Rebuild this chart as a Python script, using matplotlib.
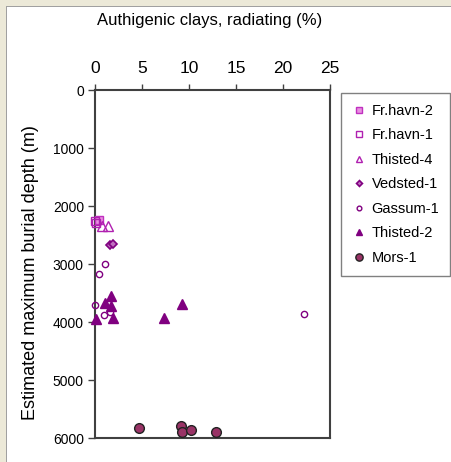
import matplotlib
matplotlib.use("Agg")
import matplotlib.pyplot as plt
from matplotlib.patches import Rectangle

plt.rcParams['font.family'] = ['Liberation Sans', 'DejaVu Sans']

# Data (clay %, depth m)
frhavn2_x = [0.4]
frhavn2_y = [2240]
frhavn1_x = [0.0, 0.1]
frhavn1_y = [2250, 2300]
thisted4_x = [0.7, 1.35]
thisted4_y = [2350, 2350]
vedsted1_x = [1.6, 1.9]
vedsted1_y = [2670, 2660]
gassum1_x = [1.05, 0.4, 0.0, 1.0, 1.6, 22.2]
gassum1_y = [3000, 3170, 3700, 3880, 3830, 3870]
thisted2_x = [1.7, 1.05, 1.7, 0.07, 1.95, 7.3, 9.3]
thisted2_y = [3550, 3670, 3720, 3945, 3930, 3930, 3690]
mors1_x = [4.7, 9.2, 9.3, 10.2, 12.9]
mors1_y = [5830, 5800, 5890, 5870, 5890]

xticks = [0, 5, 10, 15, 20, 25]
yticks = [0, 1000, 2000, 3000, 4000, 5000, 6000]

W, H = 452, 462
fig = plt.figure(figsize=(W / 100, H / 100), dpi=100)
fig.patch.set_facecolor('white')

# window border (beige) top and left
fig.patches.append(Rectangle((0, 1 - 6 / H), 1, 6 / H, transform=fig.transFigure,
                             facecolor='#ece9d8', edgecolor='none', zorder=0))
fig.patches.append(Rectangle((0, 0), 6 / W, 1, transform=fig.transFigure,
                             facecolor='#ece9d8', edgecolor='none', zorder=0))
fig.patches.append(Rectangle((6 / W, 0), 1.2 / W, 1 - 6 / H, transform=fig.transFigure,
                             facecolor='#a0a0a0', edgecolor='none', zorder=0))
fig.patches.append(Rectangle((6 / W, 1 - 7.2 / H), 1 - 6 / W, 1.2 / H, transform=fig.transFigure,
                             facecolor='#a0a0a0', edgecolor='none', zorder=0))

ax = fig.add_axes([95 / W, 1 - 438 / H, (330 - 95) / W, (438 - 90) / H])

purple = '#800080'
magenta = '#b020b0'

ax.plot(frhavn2_x, frhavn2_y, ls='none', marker='s', ms=5.5, mfc='#e890e0',
        mec='#c030c0', mew=1.0, label='Fr.havn-2', clip_on=False, zorder=5)
ax.plot(frhavn1_x, frhavn1_y, ls='none', marker='s', ms=5.5, mfc='none',
        mec=magenta, mew=1.0, label='Fr.havn-1', clip_on=False, zorder=5)
ax.plot(thisted4_x, thisted4_y, ls='none', marker='^', ms=6.5, mfc='none',
        mec=magenta, mew=1.0, label='Thisted-4', clip_on=False, zorder=5)
ax.plot(vedsted1_x, vedsted1_y, ls='none', marker='D', ms=4, mfc='#c070c0',
        mec=purple, mew=1.2, label='Vedsted-1', clip_on=False, zorder=5)
ax.plot(gassum1_x, gassum1_y, ls='none', marker='o', ms=4.5, mfc='none',
        mec=purple, mew=1.0, label='Gassum-1', clip_on=False, zorder=5)
ax.plot(thisted2_x, thisted2_y, ls='none', marker='^', ms=6.5, mfc=purple,
        mec=purple, mew=1.0, label='Thisted-2', clip_on=False, zorder=5)
ax.plot(mors1_x, mors1_y, ls='none', marker='o', ms=7, mfc='#993366',
        mec='#222222', mew=1.0, label='Mors-1', clip_on=False, zorder=5)

ax.set_xlim(0, 25)
ax.set_ylim(6000, 0)
ax.set_xticks(xticks)
ax.set_yticks(yticks)
ax.xaxis.tick_top()
ax.xaxis.set_label_position('top')
ax.tick_params(axis='x', labelsize=12.5, direction='out', length=4, width=1,
               color='#404040', pad=6)
ax.tick_params(axis='y', labelsize=10, direction='out', length=5, width=1,
               color='#404040', pad=3)
for s in ax.spines.values():
    s.set_color('#404040')
    s.set_linewidth(1.5)

xl = ax.set_xlabel('Authigenic clays, radiating (%)', fontsize=12)
xl.set_verticalalignment('center')
ax.xaxis.set_label_coords((210 - 95) / 235, 1 + (90 - 20) / 348)
yl = ax.set_ylabel('Estimated maximum burial depth (m)', fontsize=13)
yl.set_verticalalignment('center')
ax.yaxis.set_label_coords((31 - 95) / 235, 1 - (273 - 90) / 348)

leg = fig.legend(loc='upper left', bbox_to_anchor=(341 / W, 1 - 93 / H),
                 fontsize=10.5, frameon=True, fancybox=False, edgecolor='#808080',
                 framealpha=1, handlelength=1.0, handletextpad=0.35,
                 labelspacing=0.72, markerscale=0.75, borderpad=0.75,
                 borderaxespad=0)
leg.get_frame().set_linewidth(1.0)

fig.savefig('out.png', dpi=100)
